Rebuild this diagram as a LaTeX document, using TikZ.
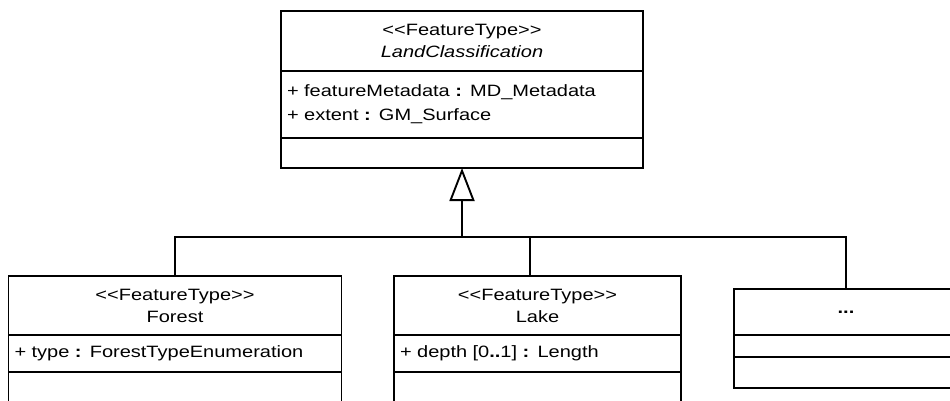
\documentclass[tikz,border=0pt]{standalone}
\usepackage{fontspec}
\setmainfont{Liberation Sans}[FakeStretch=1.22]
\usetikzlibrary{arrows.meta,positioning}
\newcommand{\stereo}[1]{<\kern0pt<#1>\kern0pt>}
\tikzset{
  cname/.style={draw,line width=1.9pt,outer sep=0pt,inner sep=0pt,align=center,
                font=\fontsize{16.4}{22}\selectfont},
  cattr/.style={draw,line width=1.9pt,outer sep=0pt,inner xsep=6pt,inner ysep=0pt,align=left,
                font=\fontsize{16.4}{24}\selectfont},
  cops/.style={draw,line width=1.9pt,outer sep=0pt,inner sep=0pt},
  genarrow/.style={line width=1.9pt,-{Triangle[length=33pt,width=25pt,fill=white]}},
  bus/.style={line width=1.9pt},
}
\begin{document}
\begin{tikzpicture}[x=1pt,y=-1pt]
\useasboundingbox (0,0) rectangle (950,401);
\clip (0,0) rectangle (950,401);
% super class
\node[cname,minimum width=362pt,minimum height=60pt] (lcname) at (462,41)
  {\stereo{FeatureType}\\\textit{LandClassification}};
\node[cattr,text width=350pt,minimum height=67pt,below=0pt of lcname] (lcattr)
  {+ featureMetadata \textbf{:} MD\_Metadata\\+ extent \textbf{:} GM\_Surface};
\node[cops,minimum width=362pt,minimum height=30pt,below=0pt of lcattr] (lcops) {};
% sub classes
\node[cname,minimum width=333pt,minimum height=59pt] (frname) at (175,305.5)
  {\stereo{FeatureType}\\Forest};
\node[cattr,text width=321pt,minimum height=37pt,below=0pt of frname] (frattr)
  {+ type \textbf{:} ForestTypeEnumeration};
\node[cops,minimum width=333pt,minimum height=60pt,below=0pt of frattr] (frops) {};
\node[cname,minimum width=287pt,minimum height=59pt] (lkname) at (537.5,305.5)
  {\stereo{FeatureType}\\Lake};
\node[cattr,text width=275pt,minimum height=37pt,below=0pt of lkname] (lkattr)
  {+ depth [0\textbf{..}1] \textbf{:} Length};
\node[cops,minimum width=287pt,minimum height=60pt,below=0pt of lkattr] (lkops) {};
\node[cname,minimum width=224pt,minimum height=46pt] (dtname) at (846,312)
  {\textbf{...}};
\node[cops,minimum width=224pt,minimum height=22pt,below=0pt of dtname] (dtattr) {};
\node[cops,minimum width=224pt,minimum height=31pt,below=0pt of dtattr] (dtops) {};
% generalization
\coordinate (junction) at (462,237);
\draw[genarrow] (junction) -- (lcops.south);
\draw[bus] (frname.north) -- (frname.north |- junction) -- (dtname.north |- junction) -- (dtname.north);
\draw[bus] ([xshift=-7.5pt]lkname.north) -- ([xshift=-7.5pt]lkname.north |- junction);
\end{tikzpicture}
\end{document}
